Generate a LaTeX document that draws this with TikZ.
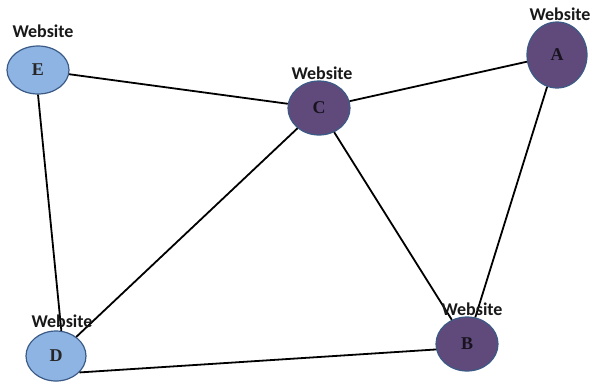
\documentclass[tikz,border=0pt]{standalone}
\usepackage{fontspec}
\setmainfont{Liberation Serif}
\newfontfamily\labfont{Carlito}
\usetikzlibrary{shapes.geometric}
\definecolor{lightsite}{HTML}{8EB4E3}
\definecolor{darksite}{HTML}{604A7B}
\definecolor{siteedge}{HTML}{3B5A86}
\tikzset{
  lightnode/.style={ellipse, draw=siteedge, line width=1.2pt, fill=lightsite, inner sep=0pt, text=black!85, font=\bfseries\fontsize{18}{20}\selectfont},
  darknode/.style={ellipse, draw=siteedge, line width=1.2pt, fill=darksite, text=black!75!darksite, inner sep=0pt, font=\bfseries\fontsize{18}{20}\selectfont},
  weblabel/.style={font=\labfont\bfseries\fontsize{18}{20}\selectfont, inner sep=0pt, text=black!90},
  link/.style={line width=1.8pt, black}
}
\begin{document}
\begin{tikzpicture}[x=1pt,y=-1pt]
\useasboundingbox (0,0) rectangle (594,381);
\node[lightnode, minimum width=62pt, minimum height=48pt] (E) at (38,70) {E};
\node[darknode, minimum width=62pt, minimum height=54pt] (C) at (319,108) {C};
\node[darknode, minimum width=60pt, minimum height=66pt] (A) at (557,55) {A};
\node[lightnode, minimum width=60pt, minimum height=50pt] (D) at (56,356) {D};
\node[darknode, minimum width=62pt, minimum height=54pt] (B) at (467,344) {B};
\draw[link] (E) -- (C);
\draw[link] (C) -- (A);
\draw[link] (E.270) -- (D.78);
\draw[link] (C) -- (D);
\draw[link] (C) -- (B);
\draw[link] (A) -- (B);
\draw[link] (D.-35) -- (B.190);
\node[weblabel] (wE) at (43,31) {Website};
\node[weblabel] (wC) at (322,73) {Website};
\node[weblabel] (wA) at (560,14) {Website};
\node[weblabel] (wD) at (62,321) {Website};
\node[weblabel] (wB) at (472,309) {Website};
\end{tikzpicture}
\end{document}
